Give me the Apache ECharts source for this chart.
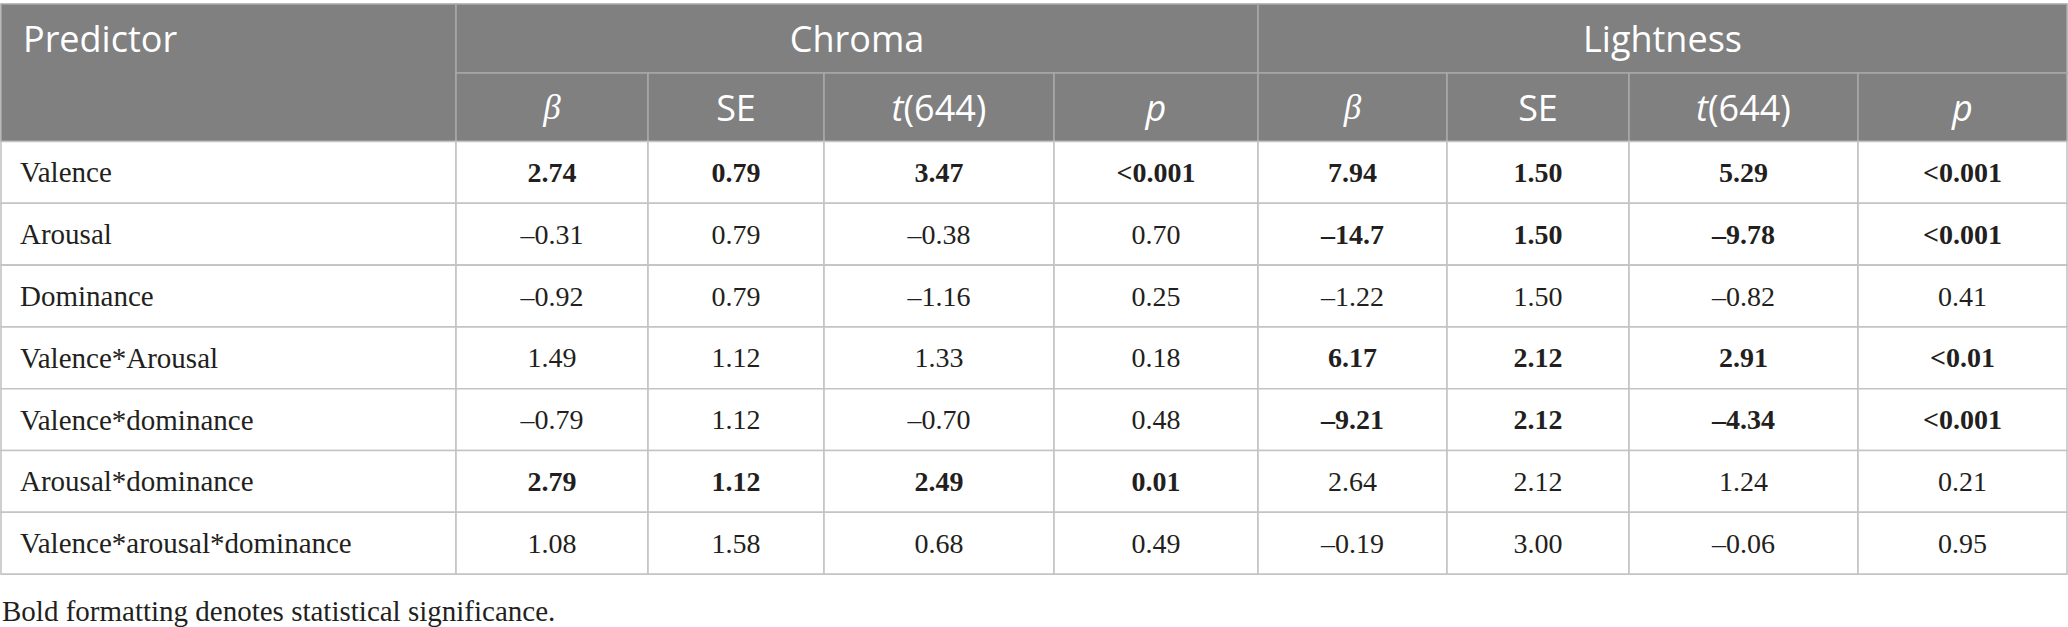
<!DOCTYPE html>
<html>
<head>
<meta charset="utf-8">
<script src="https://cdn.jsdelivr.net/npm/echarts@6/dist/echarts.min.js"></script>
<style>
html,body{margin:0;padding:0;background:#fff;}
#chart{width:2068px;height:627px;}
</style>
</head>
<body>
<div id="chart"></div>
<script>
// ---- data ----
const predictors = ['Valence','Arousal','Dominance','Valence*Arousal','Valence*dominance','Arousal*dominance','Valence*arousal*dominance'];
const groupLabels = ['Chroma','Lightness'];
const statLabels = ['β','SE','t(644)','p'];
const chromaBeta = [2.74,-0.31,-0.92,1.49,-0.79,2.79,1.08];
const chromaSE   = [0.79,0.79,0.79,1.12,1.12,1.12,1.58];
const chromaT    = [3.47,-0.38,-1.16,1.33,-0.70,2.49,0.68];
const chromaP    = ['<0.001','0.70','0.25','0.18','0.48','0.01','0.49'];
const chromaSig  = [true,false,false,false,false,true,false];
const lightBeta  = [7.94,-14.7,-1.22,6.17,-9.21,2.64,-0.19];
const lightSE    = [1.50,1.50,1.50,2.12,2.12,2.12,3.00];
const lightT     = [5.29,-9.78,-0.82,2.91,-4.34,1.24,-0.06];
const lightP     = ['<0.001','<0.001','0.41','<0.01','<0.001','0.21','0.95'];
const lightSig   = [true,true,false,true,true,false,false];
const footnote = 'Bold formatting denotes statistical significance.';

// ---- layout ----
const colEdges = [1,456,648,824,1054,1258,1447,1629,1858,2067];
const headTop = 4, headMid = 73, headBottom = 141.5, rowH = 61.8;
const rowEdge = i => headBottom + i * rowH;

function fmt(v){
  const a = Math.abs(v);
  const s = a >= 10 ? a.toFixed(1) : a.toFixed(2);
  return (v < 0 ? '\u2013' : '') + s;
}

// ---- build cells ----
const cells = [];
// header
cells.push({x0:colEdges[0],x1:colEdges[1],y0:headTop,y1:headBottom,tx:colEdges[0]+22,ty:(headTop+headMid)/2,
  text:'Predictor',kind:'head',align:'left'});
groupLabels.forEach((g,gi)=>{
  const a = colEdges[1+gi*4], b = colEdges[5+gi*4];
  cells.push({x0:a,x1:b,y0:headTop,y1:headMid,tx:(a+b)/2,ty:(headTop+headMid)/2,text:g,kind:'head',align:'center'});
  statLabels.forEach((s,si)=>{
    const c0 = colEdges[1+gi*4+si], c1 = colEdges[2+gi*4+si];
    let text = s, kind='head';
    if (s === 'β') kind = 'beta';
    else if (s === 't(644)') text = '{i|t}(644)';
    else if (s === 'p') text = '{i|p}';
    cells.push({x0:c0,x1:c1,y0:headMid,y1:headBottom,tx:(c0+c1)/2,ty:(headMid+headBottom)/2,text,kind,align:'center'});
  });
});
// body
predictors.forEach((name,r)=>{
  const y0 = rowEdge(r), y1 = rowEdge(r+1), ty=(y0+y1)/2;
  cells.push({x0:colEdges[0],x1:colEdges[1],y0,y1,tx:colEdges[0]+19,ty,text:name,kind:'name',align:'left'});
  const vals = [fmt(chromaBeta[r]),fmt(chromaSE[r]),fmt(chromaT[r]),chromaP[r],
                fmt(lightBeta[r]),fmt(lightSE[r]),fmt(lightT[r]),lightP[r]];
  vals.forEach((v,ci)=>{
    const c0 = colEdges[1+ci], c1 = colEdges[2+ci];
    const sig = ci < 4 ? chromaSig[r] : lightSig[r];
    cells.push({x0:c0,x1:c1,y0,y1,tx:(c0+c1)/2,ty,text:v,kind:sig?'bold':'body',align:'center'});
  });
});

const data = cells.map(c=>[c.x0,c.y0,c.x1,c.y1,c.tx,c.ty]);

function renderItem(params, api){
  const c = cells[params.dataIndex];
  const p0 = api.coord([api.value(0), api.value(1)]);
  const p1 = api.coord([api.value(2), api.value(3)]);
  const pt = api.coord([api.value(4), api.value(5)]);
  const isHead = c.kind === 'head' || c.kind === 'beta';
  let style;
  if (c.kind === 'head') {
    style = {text:c.text, fill:'#ffffff', fontFamily:'Open Sans', fontSize:36, align:c.align, verticalAlign:'middle',
      rich:{i:{fontFamily:'Open Sans', fontStyle:'italic', fontSize:36, fill:'#ffffff'}}};
  } else if (c.kind === 'beta') {
    style = {text:c.text, fill:'#ffffff', fontFamily:'Liberation Serif', fontStyle:'italic', fontSize:35, align:'center', verticalAlign:'middle'};
  } else {
    style = {text:c.text, fill:'#231f20', fontFamily:'Liberation Serif', fontSize: c.kind === 'name' ? 29 : 28,
      fontWeight: c.kind === 'bold' ? 'bold' : 'normal', align:c.align, verticalAlign:'middle'};
  }
  return {
    type:'group',
    children:[
      {type:'rect', shape:{x:p0[0], y:p0[1], width:p1[0]-p0[0], height:p1[1]-p0[1]},
       style:{fill: isHead ? '#808080' : '#ffffff', stroke: isHead ? '#a8a8a8' : '#c4c4c4', lineWidth:1.6}},
      {type:'text', x:pt[0], y:pt[1], style:style}
    ]
  };
}

const chart = echarts.init(document.getElementById('chart'), null, {renderer:'svg'});
chart.setOption({
  animation:false,
  backgroundColor:'#ffffff',
  title:{text:footnote, left:2, top:596, padding:0,
    textStyle:{fontFamily:'Liberation Serif', fontSize:29, fontWeight:'normal', color:'#231f20'}},
  grid:{left:0, right:0, top:0, bottom:0},
  xAxis:{type:'value', min:0, max:2068, show:false},
  yAxis:{type:'value', min:0, max:627, inverse:true, show:false},
  series:[{type:'custom', renderItem, data, clip:false, silent:true}]
});
</script>
</body>
</html>
